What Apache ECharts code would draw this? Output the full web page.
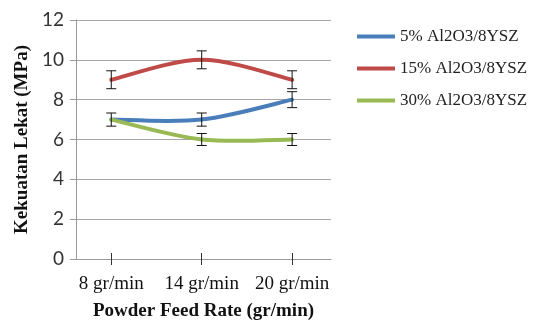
<!DOCTYPE html>
<html>
<head>
<meta charset="utf-8">
<script src="https://cdn.jsdelivr.net/npm/echarts@6/dist/echarts.min.js"></script>
<style>
  html, body { margin: 0; padding: 0; background: #ffffff; }
  #chart { width: 540px; height: 320px; }
</style>
</head>
<body>
<div id="chart"></div>
<script>
// Feed-rate categories (positions 0, 1, 2 on the x axis)
var categories = ['8 gr/min', '14 gr/min', '20 gr/min'];
var yTicks = [0, 2, 4, 6, 8, 10, 12];

// Bond strength (MPa) for each coating composition
var names = ['5% Al2O3/8YSZ', '15% Al2O3/8YSZ', '30% Al2O3/8YSZ'];
var al5 = [7, 7, 8];
var al15 = [9, 10, 9];
var al30 = [7, 6, 6];

// Error bar half-widths (MPa)
var err5 = [0.33, 0.33, 0.4];
var err15 = [0.45, 0.45, 0.45];
var err30 = [0.3, 0.3, 0.3];

var colors = ['#4a7ebb', '#be4b48', '#98b954'];

function pts(vals) {
  return vals.map(function (v, i) { return [i, v]; });
}
function errPts(vals, errs, skip) {
  var out = [];
  vals.forEach(function (v, i) {
    if (skip && skip.indexOf(i) >= 0) return;
    out.push([i, v, errs[i]]);
  });
  return out;
}

var errData = []
  .concat(errPts(al5, err5))
  .concat(errPts(al15, err15))
  .concat(errPts(al30, err30, [0]));

// Smoothed line: cubic Bezier segment between consecutive points,
// control points taken from neighbouring points (Catmull-Rom style).
function makeSmoothRenderer(color) {
  return function (params, api) {
    var n = params.dataInsideLength;
    var i = params.dataIndexInside;
    if (i >= n - 1) return null;
    function P(j) {
      j = Math.max(0, Math.min(n - 1, j));
      return api.coord([api.value(0, j), api.value(1, j)]);
    }
    var p0 = P(i - 1), p1 = P(i), p2 = P(i + 1), p3 = P(i + 2);
    var c1 = [p1[0] + (p2[0] - p0[0]) / 6, p1[1] + (p2[1] - p0[1]) / 6];
    var c2 = [p2[0] - (p3[0] - p1[0]) / 6, p2[1] - (p3[1] - p1[1]) / 6];
    return {
      type: 'bezierCurve',
      shape: { x1: p1[0], y1: p1[1], x2: p2[0], y2: p2[1],
               cpx1: c1[0], cpy1: c1[1], cpx2: c2[0], cpy2: c2[1] },
      style: { stroke: color, lineWidth: 4, fill: null, lineCap: 'round' }
    };
  };
}

function renderErr(params, api) {
  var x = api.value(0), y = api.value(1), e = api.value(2);
  var top = api.coord([x, y + e]);
  var bot = api.coord([x, y - e]);
  var cap = 5;
  var st = { stroke: '#111', lineWidth: 1 };
  return {
    type: 'group',
    children: [
      { type: 'line', shape: { x1: top[0], y1: top[1], x2: bot[0], y2: bot[1] }, style: st },
      { type: 'line', shape: { x1: top[0] - cap, y1: top[1], x2: top[0] + cap, y2: top[1] }, style: st },
      { type: 'line', shape: { x1: bot[0] - cap, y1: bot[1], x2: bot[0] + cap, y2: bot[1] }, style: st }
    ]
  };
}

function lineSeries(idx, vals) {
  return {
    name: names[idx], type: 'custom', data: pts(vals),
    renderItem: makeSmoothRenderer(colors[idx]),
    itemStyle: { color: colors[idx] }, z: 3
  };
}

var serif = '"Liberation Serif", "Times New Roman", serif';
var xRange = { min: -0.39, max: 2.43 };

var chart = echarts.init(document.getElementById('chart'));
chart.setOption({
  animation: false,
  backgroundColor: '#ffffff',
  grid: { left: 76, right: 209, top: 20, bottom: 61, containLabel: false, outerBoundsMode: 'none' },
  legend: {
    orient: 'vertical',
    left: 357,
    top: 28,
    padding: 0,
    itemWidth: 38,
    itemHeight: 4,
    itemGap: 15,
    icon: 'rect',
    data: names,
    textStyle: { fontFamily: serif, fontSize: 17, color: '#222' }
  },
  xAxis: [{
    type: 'value',
    min: xRange.min,
    max: xRange.max,
    position: 'bottom',
    splitLine: { show: false },
    axisLine: { show: true, onZero: false, lineStyle: { color: '#999', width: 1 } },
    axisTick: { show: true, length: 6, customValues: [0, 1, 2], lineStyle: { color: '#333' } },
    axisLabel: {
      customValues: [0, 1, 2],
      formatter: function (v) { return categories[Math.round(v)]; },
      fontFamily: serif, fontSize: 19, color: '#111', margin: 16
    },
    name: 'Powder Feed Rate (gr/min)',
    nameLocation: 'middle',
    nameGap: 43,
    nameTextStyle: { fontFamily: serif, fontSize: 19, fontWeight: 'bold', color: '#111' }
  }, {
    // inner half of the crossing tick marks
    type: 'value',
    min: xRange.min,
    max: xRange.max,
    position: 'bottom',
    splitLine: { show: false },
    axisLine: { show: false, onZero: false },
    axisTick: { show: true, inside: true, length: 6, customValues: [0, 1, 2], lineStyle: { color: '#333' } },
    axisLabel: { show: false }
  }],
  yAxis: {
    type: 'value',
    min: 0,
    max: 12,
    interval: 2,
    axisLine: { show: true, onZero: false, lineStyle: { color: '#999', width: 1 } },
    axisTick: { show: true, length: 6, lineStyle: { color: '#999' } },
    splitLine: { show: true, lineStyle: { color: '#a6a6a6', width: 1 } },
    axisLabel: {
      fontFamily: 'Lato, "Open Sans", sans-serif', fontSize: 19, color: '#333', margin: 12,
      formatter: function (v) { return yTicks.indexOf(v) >= 0 ? String(v) : ''; }
    },
    name: 'Kekuatan Lekat (MPa)',
    nameLocation: 'middle',
    nameGap: 44,
    nameTextStyle: { fontFamily: serif, fontSize: 19, fontWeight: 'bold', color: '#111' }
  },
  series: [
    lineSeries(0, al5),
    lineSeries(1, al15),
    lineSeries(2, al30),
    { name: 'err', type: 'custom', renderItem: renderErr, data: errData, z: 5 }
  ]
});
</script>
</body>
</html>
